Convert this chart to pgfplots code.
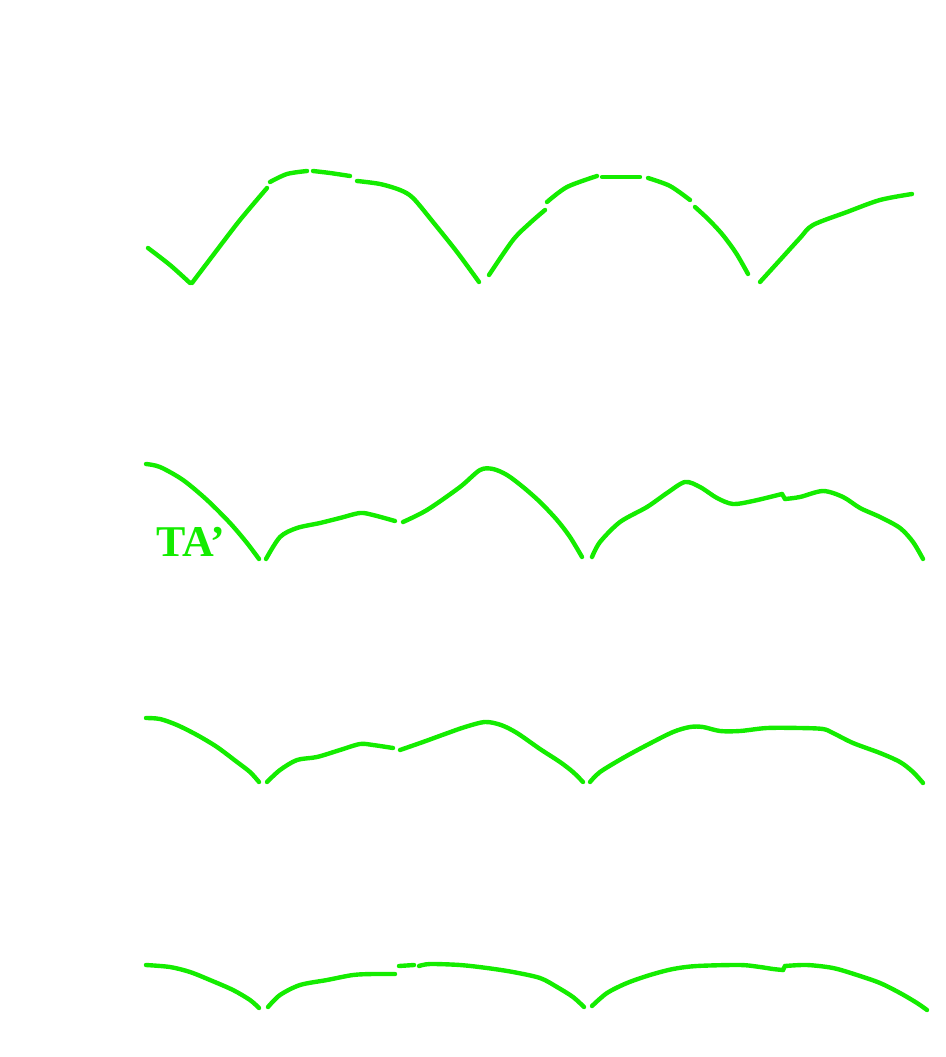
\documentclass[border=0pt]{standalone}
\usepackage{pgfplots}
\pgfplotsset{compat=1.18}
\usepackage{fontspec}
\setmainfont{Liberation Serif}
\definecolor{bandgreen}{RGB}{20,236,0}
\begin{document}
\begin{tikzpicture}
\begin{axis}[
  scale only axis, width=9.45cm, height=10.57cm,
  xmin=0, xmax=945, ymin=0, ymax=1057, y dir=reverse,
  hide axis, clip=false,
  gline/.style={color=bandgreen, line width=1.25pt, mark=none, solid, smooth, tension=0.5, line cap=round},
]
% invisible frame to keep the full picture area
\addplot[draw=none, mark=none] coordinates {(0,0) (945,1057)};
% ---- panel 1
\addplot[gline] coordinates {(148,248) (170,265) (190,283)};
\addplot[gline] coordinates {(192,283) (217,250) (240,220) (267,188)};
\addplot[gline] coordinates {(270,182) (287,174) (307,171)};
\addplot[gline] coordinates {(313,171) (330,173) (350,176)};
\addplot[gline] coordinates {(357,181) (380,184) (400,190) (413,198) (433,222) (457,252) (479,282)};
\addplot[gline] coordinates {(489,275) (513,240) (530,223) (545,210)};
\addplot[gline] coordinates {(547,202) (567,187) (597,176)};
\addplot[gline] coordinates {(602,177) (640,177)};
\addplot[gline] coordinates {(648,178) (670,186) (690,200)};
\addplot[gline] coordinates {(695,207) (708,219) (722,234) (736,253) (748,274)};
\addplot[gline] coordinates {(760,282) (780,260) (800,238) (813,225) (847,212) (880,200) (912,194)};
% ---- panel 2
\addplot[gline] coordinates {(146,464) (160,467) (183,480) (207,500) (230,523) (247,543) (259,559)};
\addplot[gline] coordinates {(266,559) (280,537) (297,528) (320,523) (340,518) (360,513) (373,515) (395,521)};
\addplot[gline] coordinates {(403,522) (427,510) (460,487) (480,470) (493,469) (507,475) (523,487) (540,502) (557,520) (570,537) (582,557)};
\addplot[gline] coordinates {(592,557) (600,542) (620,522) (647,507) (667,493) (685,482) (700,487) (717,498) (733,504) (753,501) (782,494)};
\addplot[gline, smooth=false] coordinates {(782,494) (785,499)};
\addplot[gline] coordinates {(785,499) (800,497) (823,491) (843,497) (860,508) (880,517) (900,528) (913,542) (923,559)};
% ---- panel 3
\addplot[gline] coordinates {(146,718) (160,719) (177,725) (197,735) (217,747) (237,762) (250,772) (259,782)};
\addplot[gline] coordinates {(267,782) (280,770) (297,760) (317,757) (340,750) (360,744) (373,745) (393,748)};
\addplot[gline] coordinates {(400,750) (423,742) (445,734) (465,727) (485,722) (501,725) (517,733) (540,749) (560,762) (573,772) (583,782)};
\addplot[gline] coordinates {(590,782) (600,772) (623,758) (647,745) (673,732) (690,727) (703,727) (720,731) (740,731) (767,728) (800,728) (823,729) (833,733) (853,743) (880,753) (900,762) (913,772) (923,783)};
% ---- panel 4
\addplot[gline] coordinates {(146,965) (170,967) (190,972) (210,980) (233,990) (250,1000) (259,1008)};
\addplot[gline] coordinates {(268,1007) (280,995) (300,985) (327,980) (353,975) (373,974) (395,974)};
\addplot[gline] coordinates {(399,966) (414,965)};
\addplot[gline] coordinates {(419,966) (430,964) (460,965) (487,968) (513,972) (540,978) (557,987) (573,997) (584,1007)};
\addplot[gline] coordinates {(592,1006) (607,993) (627,983) (650,975) (673,969) (697,966) (740,965) (760,967) (773,969) (783,970)};
\addplot[gline, smooth=false] coordinates {(783,970) (785,966)};
\addplot[gline] coordinates {(785,966) (807,965) (833,968) (857,975) (880,983) (900,993) (917,1003) (927,1010)};
\node[text=bandgreen, font=\fontsize{12.5}{14}\selectfont\bfseries, anchor=center] at (axis cs:191,542) {TA’};
\end{axis}
\end{tikzpicture}
\end{document}
